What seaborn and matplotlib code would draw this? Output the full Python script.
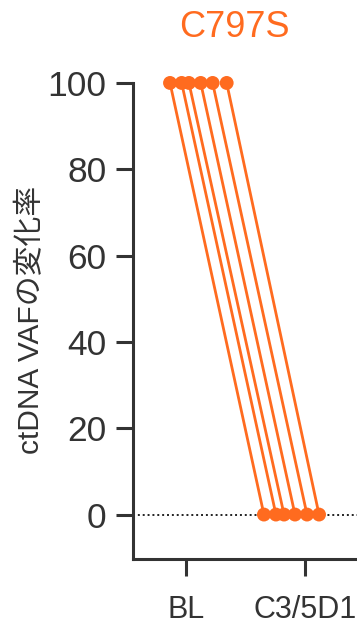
import matplotlib
matplotlib.use("Agg")
import matplotlib.pyplot as plt
import seaborn as sns
import pandas as pd
import numpy as np

# ---- data ----
timepoints = ["BL", "C3/5D1"]
subjects = [1, 2, 3, 4, 5, 6]
bl_values = [100, 100, 100, 100, 100, 100]
c3_values = [0, 0, 0, 0, 0, 0]
bl_jitter = [-0.134, -0.036, 0.025, 0.124, 0.224, 0.342]
c3_jitter = [-0.345, -0.244, -0.176, -0.084, 0.017, 0.118]
yticks = [0, 20, 40, 60, 80, 100]
title = "C797S"
ylabel = "ctDNA VAFの変化率"

orange = "#FF6B1F"
dark = "#333333"

rows = []
for s, v, j in zip(subjects, bl_values, bl_jitter):
    rows.append({"subject": s, "x": 0 + j, "vaf": v})
for s, v, j in zip(subjects, c3_values, c3_jitter):
    rows.append({"subject": s, "x": 1 + j, "vaf": v})
df = pd.DataFrame(rows)

sns.set_style("ticks")
plt.rcParams["font.family"] = ["Liberation Sans", "Noto Sans CJK JP", "DejaVu Sans"]

fig = plt.figure(figsize=(3.57, 6.26), dpi=100)
ax = fig.add_axes([133 / 357, 1 - 559 / 626, 1 - 133 / 357, (559 - 70) / 626])

ax.axhline(0, color="#222222", linestyle=(0, (1, 1.5)), linewidth=1.4, zorder=1)

sns.lineplot(data=df, x="x", y="vaf", units="subject", estimator=None,
             color=orange, linewidth=2.0, ax=ax, zorder=2, legend=False)
sns.scatterplot(data=df, x="x", y="vaf", color=orange, s=100, edgecolor="none",
                ax=ax, zorder=3, clip_on=False, legend=False)

ax.set_xlim(-0.445, 1.437)
ax.set_ylim(-10.3, 103)
ax.set_xticks([0, 1])
ax.set_xticklabels(timepoints, fontsize=22, color=dark)
ax.set_yticks(yticks)
ax.set_yticklabels([str(t) for t in yticks], fontsize=25.5, color=dark)
ax.set_xlabel("")
ax.set_ylabel("")

for side in ["top", "right"]:
    ax.spines[side].set_visible(False)
for side in ["left", "bottom"]:
    ax.spines[side].set_linewidth(2.2)
    ax.spines[side].set_color(dark)
ax.spines["left"].set_bounds(-10.3, 100)
ax.tick_params(axis="both", length=12, width=2.2, color=dark)
ax.tick_params(axis="y", pad=7)
ax.tick_params(axis="x", pad=14)

fig.text(31 / 357, 1 - 320 / 626, ylabel, rotation=90, ha="center", va="center",
         fontsize=21.5, color=dark)
fig.text(234 / 357, 1 - 37 / 626, title, ha="center", va="baseline",
         fontsize=26, color=orange)

fig.savefig("out.png", dpi=100)
